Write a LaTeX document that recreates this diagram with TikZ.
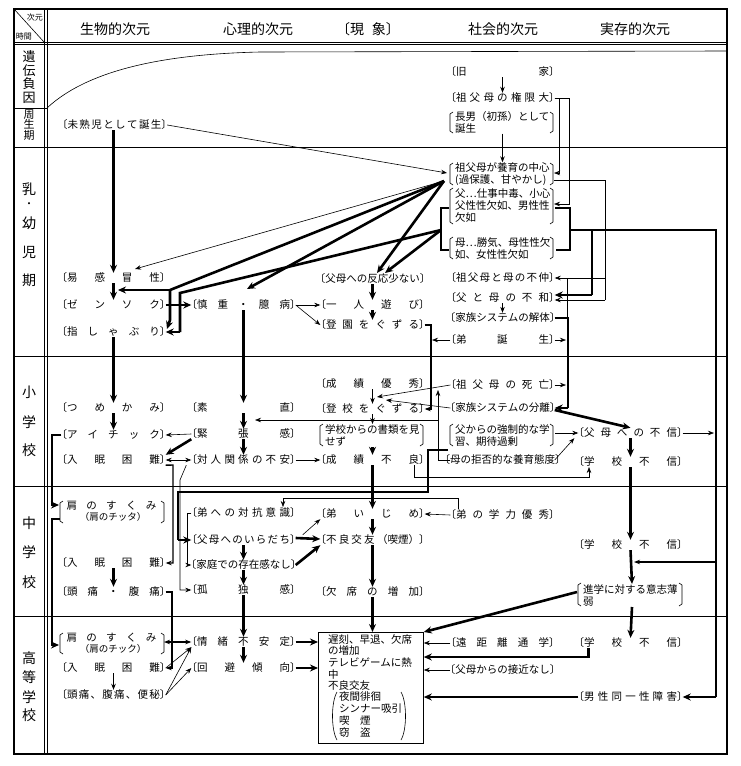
\documentclass[tikz,border=0pt]{standalone}
\usepackage{fontspec}
\setmainfont{Noto Sans CJK JP}
\usetikzlibrary{arrows.meta}
\def\spr#1{\sprA#1\relax}
\def\sprA#1#2{#1\ifx#2\relax\else\hfill\expandafter\sprA\expandafter#2\fi}
\newcommand\sw[2][104]{\makebox[#1pt]{\kern-5pt〔\spr{#2}〕\kern-5pt}}
\newcommand\LBk[3]{\draw[ln] (#1+3,#2) -- (#1,#2+2) -- (#1,#3-2) -- (#1+3,#3);}
\newcommand\RBk[3]{\draw[ln] (#1-3,#2) -- (#1,#2+2) -- (#1,#3-2) -- (#1-3,#3);}
\begin{document}
\begin{tikzpicture}[x=1pt,y=-1pt,
  nd/.style={inner sep=0pt,text height=8.5pt,text depth=1.5pt,font=\fontsize{10.5}{12}\selectfont},
  mln/.style={inner sep=0pt,align=left,anchor=west,font=\fontsize{10.5}{12}\selectfont},
  lab/.style={inner sep=0pt,font=\fontsize{14}{14}\selectfont},
  hd/.style={inner sep=0pt,font=\fontsize{14}{14}\selectfont},
  ln/.style={line width=0.6pt},
  md/.style={line width=1.4pt},
  thk/.style={line width=2.6pt},
  arr/.style={-{Stealth[length=6pt,width=4.5pt]}},
  tarr/.style={-{Stealth[length=8pt,width=7pt]}},
  darr/.style={{Stealth[length=6pt,width=4.5pt]}-{Stealth[length=6pt,width=4.5pt]}},
]
\fill[white] (0,0) rectangle (741,766);
\useasboundingbox (0,0) rectangle (741,766);
% ---------- frame ----------
\draw[line width=1.2pt] (14,9) rectangle (727,754);
\draw[line width=0.8pt] (44,9) -- (44,754);
\draw[line width=0.6pt] (47,9) -- (47,754);
\draw[line width=0.7pt] (14,42) -- (727,42);
\draw[line width=0.7pt] (14,44.5) -- (727,44.5);
\draw[ln] (14,9) -- (44,42);
\draw[ln] (14,108) -- (47,108);
\draw[ln] (47,108) .. controls (90,68) and (170,54) .. (260,52) -- (727,51);
\foreach \y in {147,356,486,616} \draw[line width=0.7pt] (14,\y) -- (727,\y);
% ---------- header ----------
\node[inner sep=0,font=\fontsize{8}{8}\selectfont] (hx) at (35,17) {次元};
\node[inner sep=0,font=\fontsize{8}{8}\selectfont] (hy) at (24,36) {時間};
\node[hd] (h1) at (115,29) {生物的次元};
\node[hd] (h2) at (258,29) {心理的次元};
\node[hd] (h3) at (368,29) {\kern-6pt〔現\hspace{8pt}象〕\kern-6pt};
\node[hd] (h4) at (503,29) {社会的次元};
\node[hd] (h5) at (635,29) {実存的次元};
% ---------- left labels ----------
\node[lab,align=center,font=\fontsize{13}{13.5}\selectfont] (L1) at (29,77) {遺\\伝\\負\\因};
\node[lab,align=center,font=\fontsize{11}{10.5}\selectfont] (L2) at (29,125) {周\\生\\期};
\node[lab] (La1) at (29,189) {乳};
\node[lab,font=\fontsize{10}{10}\selectfont] (La2) at (29,205) {・};
\foreach \c/\y [count=\i] in {幼/223,児/252,期/280} \node[lab] (Lx\i) at (29,\y) {\c};
\foreach \c/\y [count=\i] in {小/392,学/422,校/450} \node[lab] (Lb\i) at (29,\y) {\c};
\foreach \c/\y [count=\i] in {中/523,学/552,校/582} \node[lab] (Lc\i) at (29,\y) {\c};
\foreach \c/\y [count=\i] in {高/658,等/677,学/697,校/715} \node[lab] (Ld\i) at (29,\y) {\c};
% ---------- biological ----------
\node[nd] (B0) at (114.5,125) {\sw[105]{未熟児として誕生}};
\node[nd] (B1) at (113.5,278) {\sw{易感冒性}};
\node[nd] (B2) at (113.5,305) {\sw{ゼンソク}};
\node[nd] (B3) at (113.5,332) {\sw{指しゃぶり}};
\node[nd] (B4) at (113.5,408) {\sw{つめかみ}};
\node[nd] (B5) at (113.5,435) {\sw{アイチック}};
\node[nd] (B6) at (113.5,460) {\sw{入眠困難}};
\node[nd] (B7) at (111.5,506) {\makebox[90pt]{\spr{肩のすくみ}}};
\node[nd,font=\fontsize{9.5}{11}\selectfont] (B7b) at (113,517) {（肩のチッタ）};
\LBk{60}{501}{523} \RBk{164}{501}{523}
\node[nd] (B8) at (113.5,563) {\sw{入眠困難}};
\node[nd] (B9) at (113.5,592) {\sw{頭痛・腹痛}};
\node[nd] (B10) at (111.5,638) {\makebox[90pt]{\spr{肩のすくみ}}};
\node[nd,font=\fontsize{9.5}{11}\selectfont] (B10b) at (113,649) {（肩のチック）};
\LBk{60}{633}{654} \RBk{164}{633}{654}
\node[nd] (B11) at (113.5,668) {\sw{入眠困難}};
\node[nd] (B12) at (113.5,695) {\sw{頭痛、腹痛、便秘}};
% ---------- psychological ----------
\node[nd] (P1) at (243.5,305) {\sw{慎重・臆病}};
\node[nd] (P2) at (243.5,408) {\sw{素直}};
\node[nd] (P3) at (243.5,434) {\sw{緊張感}};
\node[nd] (P4) at (243.5,460) {\sw{対人関係の不安}};
\node[nd] (P5) at (243.5,513) {\sw{弟への対抗意識}};
\node[nd] (P6) at (243.5,540) {\sw{父母へのいらだち}};
\node[nd] (P7) at (243.5,565) {\sw{家庭での存在感なし}};
\node[nd] (P8) at (243.5,590) {\sw{孤独感}};
\node[nd] (P9) at (243.5,642) {\sw{情緒不安定}};
\node[nd] (P10) at (243.5,668) {\sw{回避傾向}};
% ---------- phenomena ----------
\node[nd] (C1) at (372.5,279) {\sw{父母への反応少ない}};
\node[nd] (C2) at (372.5,305) {\sw{一人遊び}};
\node[nd] (C3) at (372.5,325) {\sw{登園をぐずる}};
\node[nd] (C4) at (372.5,384) {\sw{成績優秀}};
\node[nd] (C5) at (372.5,409) {\sw{登校をぐずる}};
\node[mln] (C6) at (325,435.5) {学校からの書類を見\\せず};
\LBk{320}{424}{446} \RBk{423}{424}{446}
\node[nd] (C7) at (372.5,460) {\sw{成績不良}};
\node[nd] (C8) at (372.5,514) {\sw{弟いじめ}};
\node[nd] (C9) at (372.5,540) {\makebox[104pt]{\kern-5pt〔不\hfill 良\hfill 交\hfill 友\hfill（喫煙）〕\kern-5pt}};
\node[nd] (C10) at (372.5,592) {\sw{欠席の増加}};
\node[draw,line width=0.8pt,inner sep=0,minimum width=105pt,minimum height=111pt,anchor=north west] (BOX) at (318,632) {};
\node[anchor=north west,align=left,inner sep=0,font=\fontsize{10.5}{11.7}\selectfont] (BT) at (328,634) {遅刻、早退、欠席\\の増加\\テレビゲームに熱\\中\\不良交友};
\node[anchor=north west,align=left,inner sep=0,font=\fontsize{10.5}{12}\selectfont] (BT2) at (339,691) {夜間徘徊\\シンナー吸引\\喫\hspace{10.5pt}煙\\窃\hspace{10.5pt}盗};
\draw[ln] (337,692) .. controls (331,702) and (331,730) .. (337,740);
\draw[ln] (401,692) .. controls (407,702) and (407,730) .. (401,740);
% ---------- social ----------
\node[nd] (S1) at (502.5,72) {\sw{旧家}};
\node[nd] (S2) at (502.5,98) {\sw{祖父母の権限大}};
\node[mln] (S3) at (455,122.5) {長男（初孫）として\\誕生};
\LBk{450}{112}{133} \RBk{553}{112}{133}
\node[mln] (S4) at (455,174) {祖父母が養育の中心\\(過保護、甘やかし)};
\LBk{450}{163}{185} \RBk{553}{163}{185}
\node[mln] (S5) at (455,205.5) {父…仕事中毒、小心\\父性性欠如、男性性\\欠如};
\LBk{450}{188}{224} \RBk{553}{188}{224}
\node[mln] (S6) at (455,248.5) {母…勝気、母性性欠\\如、女性性欠如};
\LBk{450}{237}{259} \RBk{553}{237}{259}
\node[nd] (S7) at (502.5,278) {\sw{祖父母と母の不仲}};
\node[nd] (S8) at (502.5,298) {\sw{父と母の不和}};
\node[nd] (S9) at (502.5,318) {\sw{家族システムの解体}};
\node[nd] (S10) at (502.5,340) {\sw{弟誕生}};
\node[nd] (S11) at (502.5,385) {\sw{祖父母の死亡}};
\node[nd] (S12) at (502.5,408) {\sw{家族システムの分離}};
\node[mln] (S13) at (455,435.5) {父からの強制的な学\\習、期待過剰};
\LBk{450}{424}{446} \RBk{553}{424}{446}
\node[nd] (S14) at (502.5,460) {\sw{母の拒否的な養育態度}};
\node[nd] (S15) at (502.5,515) {\sw{弟の学力優秀}};
\node[nd] (S16) at (502.5,643) {\sw{遠距離通学}};
\node[nd] (S17) at (502.5,670) {\sw{父母からの接近なし}};
% ---------- existential ----------
\node[nd] (E1) at (630.5,433) {\sw{父母への不信}};
\node[nd] (E2) at (630.5,462) {\sw{学校不信}};
\node[nd] (E3) at (630.5,545) {\sw{学校不信}};
\node[mln] (E4) at (583,595.5) {進学に対する意志薄\\弱};
\LBk{578}{583}{606} \RBk{682}{583}{606}
\node[nd] (E5) at (630.5,643) {\sw{学校不信}};
\node[nd] (E6) at (630.5,697) {\sw{男性同一性障害}};
% ---------- coordinates ----------
\coordinate (F) at (444,181);
\coordinate (G) at (441,230);
\coordinate (S4L) at (447,173);
% ---------- connectors: top ----------
\draw[md,arr] (S1.south) -- (S2.north);
\draw[md,arr] (S3.south -| S1.south) -- (S4.north -| S1.south);
\draw[ln,arr] (B0.east) -- (S4L);
\draw[ln,arr] (S2.east) -- (559,98) -- (559,173) -- (554,173);
\draw[ln,arr] (S2.east) -- (569,98) -- (569,204) -- (554,204);
\draw[ln] (554,180) -- (605,180) -- (605,300);
\draw[ln,arr] (605,278) -- (S7.east);
\draw[ln,arr] (605,300) -- ([yshift=-2pt]S8.east);
\draw[thk] (555,208) -- (570,208) -- (570,250) -- (556,250);
\draw[thk] (570,230) -- (716,230) -- (716,697);
\draw[thk,tarr] (716,697) -- (E6.east);
\draw[thk] (592,230) -- (592,295);
\draw[thk,tarr] (592,295) -- ([yshift=3pt]S8.east);
\draw[thk] (449,208) -- (441,208) -- (441,250) -- (449,250);
\draw[ln,arr] (F) -- (135,269);
\draw[thk] (F) -- (170,290);
\draw[thk,tarr] (170,290) -- (118,290);
\draw[thk,tarr] (170,290) -- (170,320) -- (167,329);
\draw[thk] (G) -- (180,293) -- (180,332);
\draw[thk,tarr] (180,332) -- (B3.east);
\draw[thk,tarr] (F) -- (247,289);
\draw[thk,tarr] (F) -- (377,273);
\draw[thk,tarr] (G) -- (385,273);
\draw[ln,arr] (S8.south) -- (S9.north);
\draw[ln] (567,278) -- (567,318);
\draw[thk] (S9.east) -- (568,318) -- (568,408);
\draw[thk,tarr] (568,408) -- (S12.east);
\draw[ln,arr] (S10.east) -- (566,340);
\draw[ln,arr] (S11.east) -- (566,385);
% ---------- connectors: bio / psych ----------
\draw[thk,tarr] (B0.south -| B1.north) -- (B1.north);
\draw[thk,tarr] (B1.south) -- (B2.north);
\draw[thk,tarr] (B2.east) -- (P1.west);
\draw[thk,tarr] (P1.south) -- (P2.north);
\draw[thk,tarr] (P2.south) -- (P3.north);
\draw[thk,tarr] (P3.south) -- (P4.north);
\draw[thk,tarr] (B3.south) -- (B4.north);
\draw[thk,tarr] (B4.south) -- (B5.north);
\draw[ln,arr] (P3.west) -- (B5.east);
\draw[thk,tarr] (P3.south west) -- (B6.north east);
\draw[ln,darr] (B6.east) -- (P4.west);
\draw[ln,arr] (P4.east) -- (C7.west);
\draw[md,arr] (B6.south east) -- (173,465) -- (173,563) -- (B8.east);
\draw[thk,tarr] (B5.west) -- (52,435) -- (52,505) -- (59,505);
\draw[thk,tarr] (60,519) -- (52,519) -- (52,645) -- (59,645);
\draw[thk,tarr] (B8.south) -- (B9.north);
\draw[md,arr] (B9.east) -- (172,592) -- (172,668) -- (B11.east);
\draw[md,arr] (B11.south) -- (B12.north);
\draw[md,darr] (164,642) -- (P9.west);
\draw[ln,arr] (B11.east) -- (P9.south west);
\draw[ln,arr] (B12.east) -- (P9.south west);
\draw[ln,arr] (B12.east) -- (P10.west);
\draw[thk,tarr] (P8.south) -- (P9.north);
\draw[thk,tarr] (P9.south) -- (P10.north);
\draw[thk,tarr] (P9.east) -- (BOX.west |- P9.east);
\draw[thk,tarr] (P10.east) -- (BOX.west |- P10.east);
\draw[ln,arr] (P1.east) -- (C2.west);
\draw[ln,arr] (P1.east) -- (C3.west);
\draw[thk,tarr] (C1.south) -- (C2.north);
\draw[thk,tarr] (C2.south) -- (C3.north);
\draw[md,arr] (C3.east) -- (431,325) -- (431,409) -- (C5.east);
\draw[ln,arr] (S10.west) -- (432,340);
\draw[ln,arr] (C4.south) -- (C5.north);
\draw[ln,arr] (S11.west) -- (377,397);
\draw[ln,arr] (S12.west) -- (386,400);
\draw[ln,arr] (S14.west) -- (438,460) -- (438,390);
\draw[ln,arr] (438,420) -- (255,420);
\draw[ln,arr] (C5.south) -- (372.5,424);
\draw[thk,tarr] (372.5,447) -- (C7.north);
\draw[ln,arr] (414.5,465) -- (414.5,477) -- (589,477) -- (589,467);
\draw[thk,tarr] (C7.south) -- (C8.north);
\draw[ln] (458,509) -- (458,498) -- (283,498);
\draw[ln,arr] (283,498) -- (283,507);
\draw[ln,arr] (S15.west) -- (C8.east);
\draw[thk] (448,450) -- (428,450) -- (428,492) -- (178,492) -- (178,540);
\draw[thk,tarr] (178,540) -- (P6.west);
\draw[ln,arr] ([xshift=-5pt]P4.south west) -- (180,480) -- (180,590) -- (P8.west);
\draw[ln] (P5.west) -- (187,513) -- (187,565);
\draw[ln,arr] (187,565) -- (P7.west);
\draw[thk,tarr] (P6.south) -- (P7.north);
\draw[thk,tarr] (P7.south) -- (P8.north);
\draw[thk,tarr] ([yshift=2pt]P6.east) -- ([yshift=1pt]C9.west);
\draw[thk,tarr] (P7.east) -- (C9.south west);
\draw[ln,arr] ([xshift=7pt]P6.north east) -- (C8.south west);
\draw[thk,tarr] (C8.south) -- (C9.north);
\draw[thk,tarr] (C9.south) -- (C10.north);
\draw[thk,tarr] (C10.south) -- (BOX.north -| C10.south);
% ---------- connectors: existential ----------
\draw[thk,tarr] ([yshift=-2pt]S12.east) -- (E1.north);
\draw[ln,arr] (555,433) -- (E1.west);
\draw[ln,arr] (S14.east) -- ([xshift=-4pt]E1.south west);
\draw[ln,arr] (E1.east) -- (714,433);
\draw[thk,tarr] (E1.south) -- (E2.north);
\draw[thk,tarr] (E2.south) -- (E3.north);
\draw[md,arr] (716,562) -- (634,562);
\draw[thk,tarr] (E3.south) -- (632,584);
\draw[thk,tarr] (577,592) -- (BOX.north east);
\draw[thk,tarr] (632,607) -- (E5.north);
\draw[thk,tarr] (588.5,648) -- (588.5,657) -- (BOX.east |- 588.5,657);
\draw[ln,arr] (S16.west) -- (BOX.east |- S16.west);
\draw[ln,arr] (S17.west) -- (BOX.east |- S17.west);
\draw[thk,tarr] (E6.west) -- (BOX.east |- E6.west);
\end{tikzpicture}
\end{document}
